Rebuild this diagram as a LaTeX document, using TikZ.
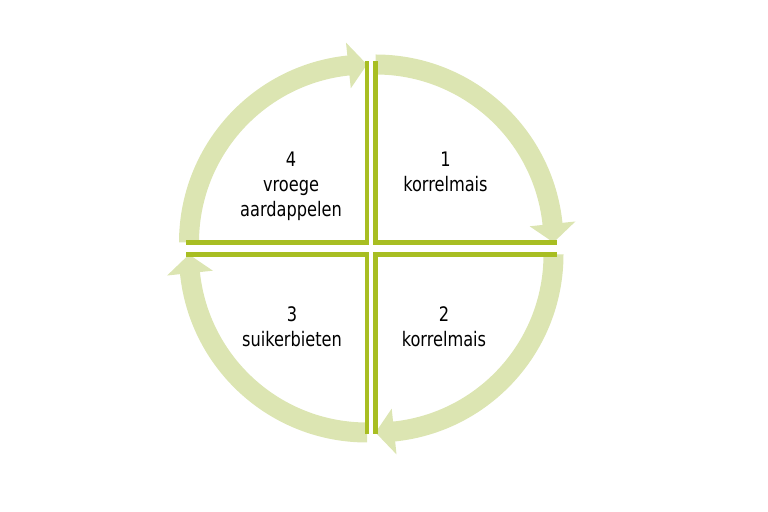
\documentclass[tikz,border=0pt]{standalone}
\usepackage{fontspec}
\setmainfont[FakeStretch=0.9]{DejaVu Sans Condensed}
\definecolor{bandgreen}{RGB}{220,229,178}
\definecolor{linegreen}{RGB}{168,190,34}
\begin{document}
\begin{tikzpicture}[x=1bp,y=1bp,
  band/.style={fill=bandgreen, draw=none},
  edgeline/.style={draw=linegreen, line width=4.5bp, line join=miter},
  lbl/.style={font=\fontsize{20bp}{25bp}\selectfont, align=center, anchor=base, inner sep=0pt, text=black}]
\useasboundingbox (0,0) rectangle (768,512);
\coordinate (tl) at (367,269.5);
\coordinate (tr) at (375.5,269.5);
\coordinate (br) at (375.5,257.5);
\coordinate (bl) at (367,257.5);
% bands with arrow heads (clockwise)
\fill[band] ([shift={(tl)}]180:188) arc[start angle=180, end angle=96, radius=188]
  -- ([shift={(tl)}]96:201) -- ([shift={(tl)}]90:178) -- ([shift={(tl)}]96:155)
  -- ([shift={(tl)}]96:168) arc[start angle=96, end angle=180, radius=168] -- cycle;
\fill[band] ([shift={(tr)}]90:188) arc[start angle=90, end angle=6, radius=188]
  -- ([shift={(tr)}]6:201) -- ([shift={(tr)}]0:178) -- ([shift={(tr)}]6:155)
  -- ([shift={(tr)}]6:168) arc[start angle=6, end angle=90, radius=168] -- cycle;
\fill[band] ([shift={(br)}]0:188) arc[start angle=0, end angle=-84, radius=188]
  -- ([shift={(br)}]-84:201) -- ([shift={(br)}]-90:178) -- ([shift={(br)}]-84:155)
  -- ([shift={(br)}]-84:168) arc[start angle=-84, end angle=0, radius=168] -- cycle;
\fill[band] ([shift={(bl)}]270:188) arc[start angle=270, end angle=186, radius=188]
  -- ([shift={(bl)}]186:201) -- ([shift={(bl)}]180:178) -- ([shift={(bl)}]186:155)
  -- ([shift={(bl)}]186:168) arc[start angle=186, end angle=270, radius=168] -- cycle;
% edge lines
\draw[edgeline] ([shift={(tl)}]90:181) -- (tl) -- ([shift={(tl)}]180:181);
\draw[edgeline] ([shift={(tr)}]90:181) -- (tr) -- ([shift={(tr)}]0:181);
\draw[edgeline] ([shift={(br)}]0:181) -- (br) -- ([shift={(br)}]-90:180);
\draw[edgeline] ([shift={(bl)}]-90:180) -- (bl) -- ([shift={(bl)}]180:181);
% labels (base = baseline of last line)
\node[lbl] (q4) at (291,295) {4\\vroege\\aardappelen};
\node[lbl] (q1) at (445.5,320) {1\\korrelmais};
\node[lbl] (q3) at (292,165) {3\\suikerbieten};
\node[lbl] (q2) at (444,165) {2\\korrelmais};
\end{tikzpicture}
\end{document}
